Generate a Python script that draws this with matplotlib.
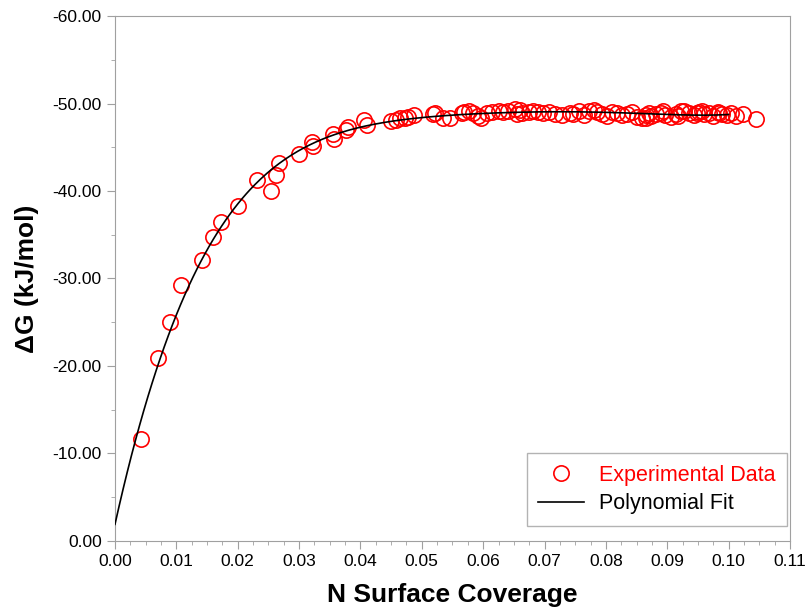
import numpy as np
import matplotlib
matplotlib.use("Agg")
import matplotlib.pyplot as plt
from matplotlib.ticker import MultipleLocator, FormatStrFormatter

cobertura = [
    0.0043, 0.0070, 0.0090, 0.0108, 0.0142, 0.0160, 0.0173, 0.0200,
    0.0232, 0.0254, 0.0263, 0.0268, 0.0300, 0.0321, 0.0322, 0.0356,
    0.0357, 0.0376, 0.0379, 0.0406, 0.0411, 0.0449, 0.0458, 0.0465,
    0.0472, 0.0478, 0.0488, 0.0518, 0.0521, 0.0535, 0.0546, 0.0565,
    0.0569, 0.0577, 0.0584, 0.0592, 0.0597, 0.0606, 0.0614, 0.0625,
    0.0633, 0.0641, 0.0652, 0.0655, 0.0660, 0.0663, 0.0674, 0.0682,
    0.0690, 0.0698, 0.0707, 0.0717, 0.0728, 0.0742, 0.0747, 0.0756,
    0.0764, 0.0772, 0.0780, 0.0786, 0.0794, 0.0802, 0.0810, 0.0818,
    0.0827, 0.0835, 0.0843, 0.0851, 0.0859, 0.0865, 0.0866, 0.0873,
    0.0881, 0.0889, 0.0897, 0.0906, 0.0914, 0.0922, 0.0927, 0.0936,
    0.0944, 0.0952, 0.0960, 0.0968, 0.0974, 0.0982, 0.0990, 0.0998,
    0.1004, 0.1012, 0.1023, 0.1045, 0.0870, 0.0893, 0.0918, 0.0948,
    0.0956, 0.0985,
]
delta_g = [
    -11.7, -20.9, -25.0, -29.3, -32.1, -34.7, -36.4, -38.3,
    -41.2, -40.0, -41.8, -43.2, -44.2, -45.6, -45.1, -46.5,
    -45.9, -47.0, -47.3, -48.1, -47.5, -48.0, -48.1, -48.3,
    -48.4, -48.5, -48.7, -48.8, -48.9, -48.3, -48.4, -48.9,
    -49.0, -49.1, -48.9, -48.6, -48.4, -48.9, -49.0, -49.1,
    -49.0, -49.2, -49.4, -48.8, -49.3, -48.9, -49.0, -49.1,
    -49.0, -48.9, -49.0, -48.8, -48.7, -48.9, -48.8, -49.1,
    -48.7, -49.2, -49.3, -49.0, -48.8, -48.6, -49.0, -48.9,
    -48.7, -48.8, -49.0, -48.5, -48.3, -48.7, -48.4, -48.6,
    -48.8, -48.9, -48.7, -48.5, -48.8, -49.1, -49.2, -48.9,
    -48.7, -49.0, -48.8, -48.9, -48.6, -49.0, -48.8, -48.7,
    -48.9, -48.6, -48.8, -48.2, -48.9, -49.1, -48.6, -48.9,
    -49.1, -48.9,
]

# Polynomial fit of the data (5th order)
coef = np.polyfit(cobertura, delta_g, 5)
x_fit = np.linspace(0, 0.1, 300)
y_fit = np.polyval(coef, x_fit)

plt.rcParams['font.family'] = ['Liberation Sans', 'DejaVu Sans']

fig = plt.figure(figsize=(8.08, 6.11), dpi=100)
ax = fig.add_axes([0.1423, 0.1146, 0.8354, 0.8592])

ax.plot(cobertura, delta_g, 'o', mfc='none', mec='red', ms=11, mew=1.2,
        label='Experimental Data', zorder=3)
ax.plot(x_fit, y_fit, color='black', lw=1.2, label='Polynomial Fit', zorder=4)

ax.set_xlim(0, 0.11)
ax.set_ylim(0, -60)
ax.xaxis.set_major_locator(MultipleLocator(0.01))
ax.xaxis.set_minor_locator(MultipleLocator(0.0025))
ax.yaxis.set_major_locator(MultipleLocator(10))
ax.yaxis.set_minor_locator(MultipleLocator(5))
ax.xaxis.set_major_formatter(FormatStrFormatter('%.2f'))
ax.yaxis.set_major_formatter(FormatStrFormatter('%.2f'))

for s in ax.spines.values():
    s.set_color('#a0a0a0')
ax.tick_params(which='both', colors='#a0a0a0', labelcolor='black', labelsize=12.5)
ax.tick_params(which='major', length=6)
ax.tick_params(which='minor', length=3)

ax.set_xlabel('N Surface Coverage', fontsize=19, fontweight='bold', labelpad=10)
ax.set_ylabel('ΔG (kJ/mol)', fontsize=19, fontweight='bold', labelpad=10)

leg = ax.legend(loc='lower right', bbox_to_anchor=(0.9956, 0.0286),
                borderaxespad=0, fontsize=15.5, frameon=True, fancybox=False,
                borderpad=0.55, labelspacing=0.35, handlelength=2.1,
                handletextpad=0.7)
leg.get_frame().set_edgecolor('#a0a0a0')
leg.get_texts()[0].set_color('red')

fig.savefig('out.png', dpi=100)
